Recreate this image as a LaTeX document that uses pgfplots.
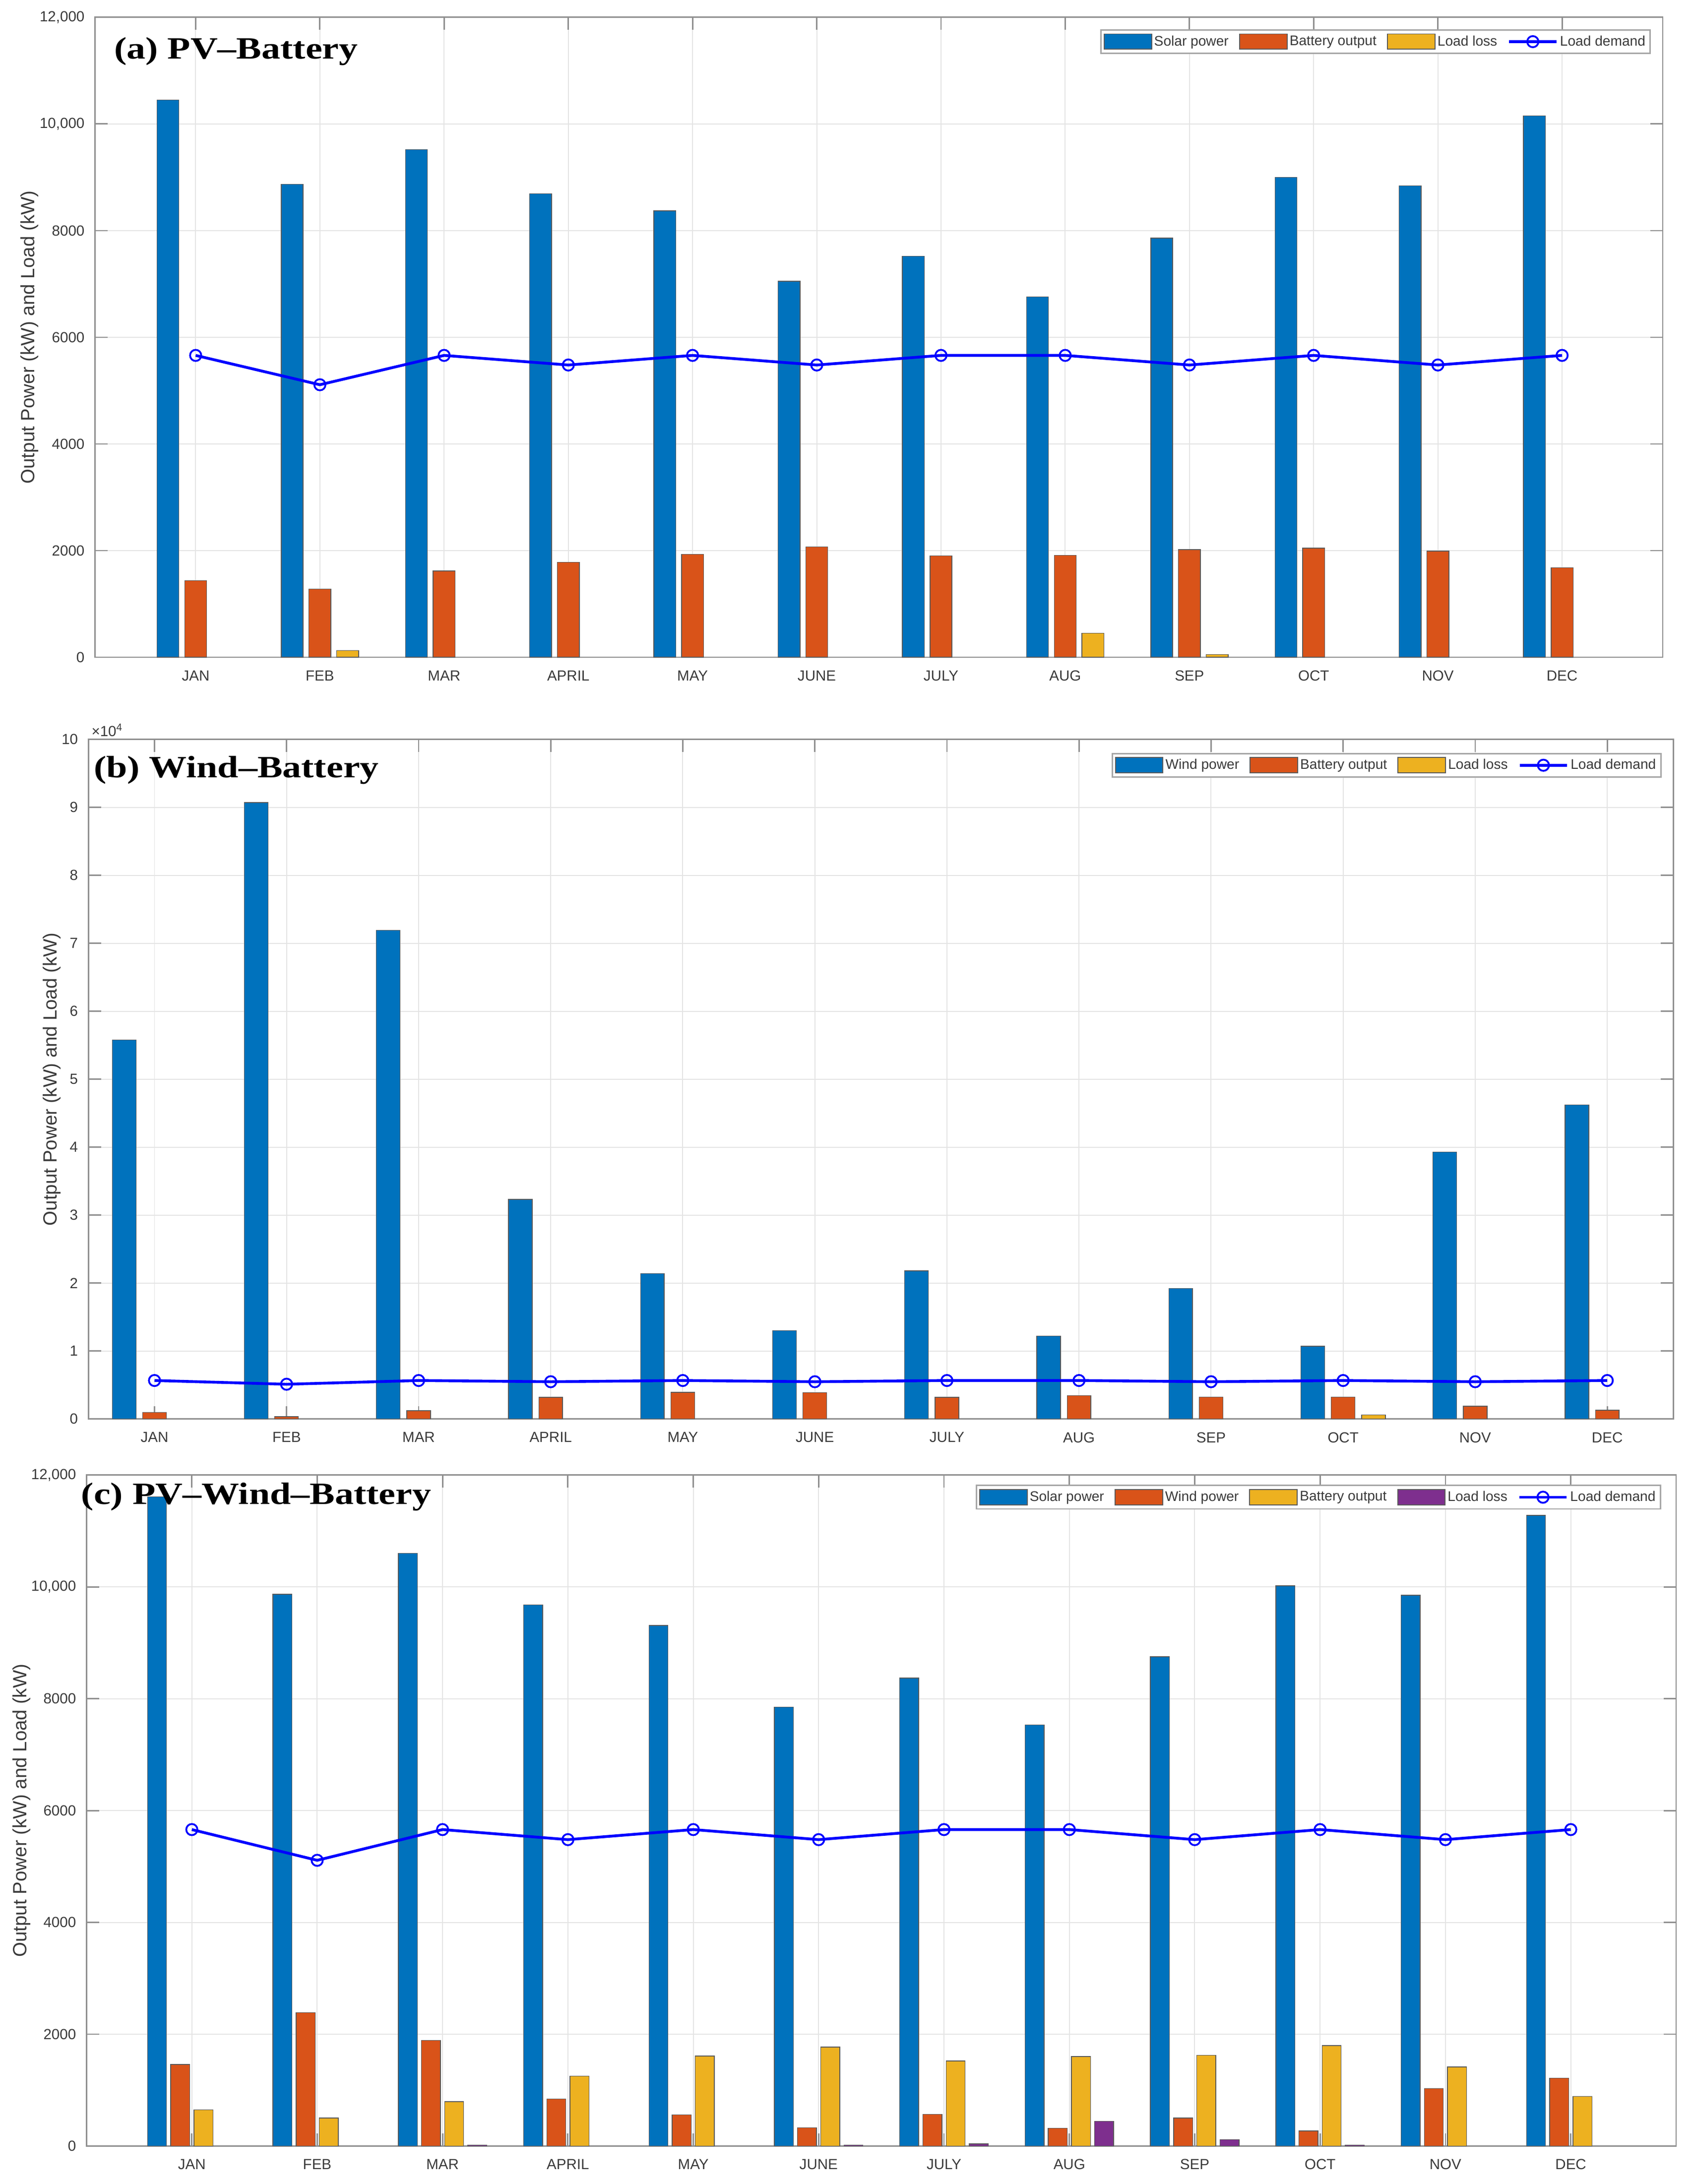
\documentclass[border=0pt]{standalone}
\usepackage{pgfplots}
\pgfplotsset{compat=1.18}
\usepackage{graphicx}
\usepackage{fontspec}
\setmainfont{Liberation Sans}
\newfontfamily\titlefont{Liberation Serif}

\definecolor{cA}{HTML}{0072BD}
\definecolor{cB}{HTML}{D95319}
\definecolor{cC}{HTML}{EDB120}
\definecolor{cD}{HTML}{7E2F8E}
\definecolor{gridc}{HTML}{E4E4E4}
\definecolor{axc}{HTML}{8F8F8F}
\definecolor{txtc}{HTML}{3A3A3A}

\tikzset{ptitle/.style={anchor=base west, inner sep=0pt, font=\titlefont\bfseries\fontsize{27}{30}\selectfont}}

\pgfplotsset{
  panel/.style={
    scale only axis, clip=false,
    scaled ticks=false, scaled y ticks=false, scaled x ticks=false,
    axis line style={axc, line width=1pt},
    tick style={axc, line width=1pt},
    major tick length=9pt,
    tick align=inside,
    xtick={1,2,3,4,5,6,7,8,9,10,11,12},
    xticklabels={JAN,FEB,MAR,APRIL,MAY,JUNE,JULY,AUG,SEP,OCT,NOV,DEC},
    xmajorgrids, ymajorgrids,
    major grid style={gridc, line width=0.7pt},
    ymin=0,
    tick label style={font=\fontsize{10.5}{12}\selectfont, text=txtc},
    xticklabel style={yshift=-6pt},
    yticklabel style={xshift=-4pt},
    ylabel={Output Power (kW) and Load (kW)},
    ylabel style={font=\fontsize{13.7}{15}\selectfont, text=txtc, anchor=center},
    legend columns=-1,
    legend cell align=left,
    legend style={font=\fontsize{10}{11}\selectfont, text=txtc, draw=black!35,
      line width=1pt, fill=white, anchor=north east,
      inner xsep=2pt, inner ysep=2.5pt,
      nodes={inner sep=1.5pt},
      /tikz/every even column/.append style={column sep=6pt}},
  },
  barleg/.style={legend image code/.code={\draw[##1, line width=0.7pt] (0pt,-5.5pt) rectangle (34pt,5.5pt);}},
  lineleg/.style={legend image code/.code={\draw[mark repeat=2,mark phase=2,##1] plot coordinates {(0pt,0pt) (17pt,0pt) (34pt,0pt)};}},
  bars/.style={ybar, draw=black!65, line width=0.5pt, barleg},
  loadline/.style={color=blue, line width=2pt, mark=o, mark size=4pt,
    mark options={solid, fill=white, line width=1.3pt}, lineleg},
}

\begin{document}
\begin{tikzpicture}
\useasboundingbox (0,0) rectangle (1213pt,1565pt);

% ---------------- (a) PV-Battery ----------------
\begin{axis}[panel, at={(68.1pt,1094pt)}, anchor=south west,
  width=1123.3pt, height=458.6pt,
  xmin=0.19, xmax=12.81, ymax=12000,
  ytick={0,2000,4000,6000,8000,10000,12000},
  yticklabels={0,2000,4000,6000,8000,{10,000},{12,000}},
  ylabel style={at={(axis description cs:-0.0419,0.5)}},
  legend style={at={(axis description cs:1,1)}, xshift=-8.4pt, yshift=-8.6pt}]
\addplot[bars, fill=cA, bar width=0.177, bar shift=-0.223] coordinates {
 (1,10450) (2,8870) (3,9520) (4,8690) (5,8370) (6,7050) (7,7520) (8,6760) (9,7860) (10,9000) (11,8840) (12,10150)};
\addplot[bars, fill=cB, bar width=0.177, bar shift=0] coordinates {
 (1,1440) (2,1280) (3,1620) (4,1780) (5,1930) (6,2070) (7,1900) (8,1910) (9,2020) (10,2045) (11,1990) (12,1680)};
\addplot[bars, fill=cC, bar width=0.177, bar shift=0.223] coordinates {
 (2,125) (8,450) (9,50)};
\addplot[loadline] coordinates {
 (1,5660) (2,5110) (3,5660) (4,5480) (5,5660) (6,5480) (7,5660) (8,5660) (9,5480) (10,5660) (11,5480) (12,5660)};
\legend{Solar power, Battery output, Load loss, Load demand}
\node[ptitle, xshift=13.5pt, yshift=-29.6pt] at (rel axis cs:0,1) {\scalebox{1}[0.82]{(a) PV–Battery}};
\end{axis}

% ---------------- (b) Wind-Battery ----------------
\begin{axis}[panel, at={(63.4pt,548.2pt)}, anchor=south west,
  width=1135.6pt, height=486.9pt,
  xmin=0.5, xmax=12.5, ymax=100000,
  ytick={0,10000,20000,30000,40000,50000,60000,70000,80000,90000,100000},
  yticklabels={0,1,2,3,4,5,6,7,8,9,10},
  ylabel style={at={(axis description cs:-0.0232,0.5)}},
  legend style={at={(axis description cs:1,1)}, xshift=-8.4pt, yshift=-9.6pt}]
\addplot[bars, fill=cA, bar width=0.18, bar shift=-0.23] coordinates {
 (1,55800) (2,90700) (3,71900) (4,32300) (5,21400) (6,13000) (7,21800) (8,12200) (9,19200) (10,10700) (11,39300) (12,46200)};
\addplot[bars, fill=cB, bar width=0.18, bar shift=0] coordinates {
 (1,980) (2,350) (3,1230) (4,3190) (5,3930) (6,3860) (7,3190) (8,3460) (9,3240) (10,3240) (11,1870) (12,1280)};
\addplot[bars, fill=cC, bar width=0.18, bar shift=0.23] coordinates {
 (10,610)};
\addplot[loadline] coordinates {
 (1,5660) (2,5110) (3,5660) (4,5480) (5,5660) (6,5480) (7,5660) (8,5660) (9,5480) (10,5660) (11,5480) (12,5660)};
\legend{Wind power, Battery output, Load loss, Load demand}
\node[ptitle, xshift=3.6pt, yshift=-27.1pt] at (rel axis cs:0,1) {\scalebox{1}[0.82]{(b) Wind–Battery}};
\node[anchor=south west, inner sep=0pt, font=\fontsize{10.5}{12}\selectfont, text=txtc, xshift=2pt, yshift=2pt] at (rel axis cs:0,1) {×10\textsuperscript{4}};
\end{axis}

% ---------------- (c) PV-Wind-Battery ----------------
\begin{axis}[panel, at={(62pt,27.2pt)}, anchor=south west,
  width=1139pt, height=480.8pt,
  xmin=0.16, xmax=12.84, ymax=12000,
  ytick={0,2000,4000,6000,8000,10000,12000},
  yticklabels={0,2000,4000,6000,8000,{10,000},{12,000}},
  ylabel style={at={(axis description cs:-0.0408,0.5)}},
  legend style={at={(axis description cs:1,1)}, xshift=-10.7pt, yshift=-7pt}]
\addplot[bars, fill=cA, bar width=0.152, bar shift=-0.2775] coordinates {
 (1,11610) (2,9870) (3,10600) (4,9680) (5,9310) (6,7850) (7,8370) (8,7530) (9,8750) (10,10020) (11,9850) (12,11280)};
\addplot[bars, fill=cB, bar width=0.152, bar shift=-0.0925] coordinates {
 (1,1460) (2,2385) (3,1890) (4,840) (5,560) (6,330) (7,570) (8,320) (9,500) (10,270) (11,1030) (12,1215)};
\addplot[bars, fill=cC, bar width=0.152, bar shift=0.0925] coordinates {
 (1,650) (2,500) (3,795) (4,1250) (5,1610) (6,1770) (7,1520) (8,1600) (9,1625) (10,1795) (11,1415) (12,885)};
\addplot[bars, fill=cD, bar width=0.152, bar shift=0.2775] coordinates {
 (3,15) (6,15) (7,40) (8,445) (9,115) (10,15)};
\addplot[loadline] coordinates {
 (1,5660) (2,5110) (3,5660) (4,5480) (5,5660) (6,5480) (7,5660) (8,5660) (9,5480) (10,5660) (11,5480) (12,5660)};
\legend{Solar power, Wind power, Battery output, Load loss, Load demand}
\node[ptitle, xshift=-4pt, yshift=-21pt] at (rel axis cs:0,1) {\scalebox{1}[0.82]{(c) PV–Wind–Battery}};
\end{axis}

\end{tikzpicture}
\end{document}
